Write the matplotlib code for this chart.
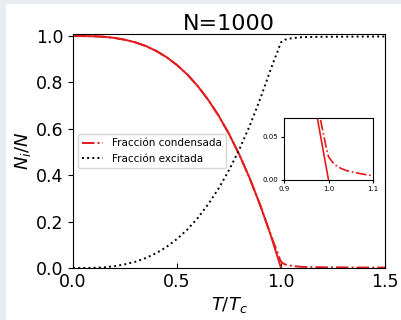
import matplotlib
matplotlib.use("Agg")
import matplotlib.pyplot as plt
from matplotlib.patches import Rectangle

# Condensed fraction, ideal (thermodynamic limit)
t_ideal = [0.0, 0.05, 0.1, 0.15, 0.2, 0.25, 0.3, 0.35, 0.4, 0.45, 0.5, 0.55,
           0.6, 0.65, 0.7, 0.75, 0.8, 0.85, 0.9, 0.95, 1.0]
n0_ideal = [1.0, 1.0, 0.999, 0.997, 0.992, 0.984, 0.973, 0.957, 0.936, 0.909,
            0.875, 0.834, 0.784, 0.725, 0.657, 0.578, 0.488, 0.386, 0.271,
            0.143, 0.0]

# Finite N = 1000
t_fin = [0.0, 0.05, 0.1, 0.15, 0.2, 0.25, 0.3, 0.35, 0.4, 0.45, 0.5, 0.55,
         0.6, 0.65, 0.7, 0.75, 0.8, 0.85, 0.9, 0.95, 0.97, 0.98, 0.99, 0.995,
         1.0, 1.01, 1.02, 1.03, 1.04, 1.05, 1.07, 1.1, 1.15, 1.2, 1.3, 1.4, 1.5]
n0_fin = [1.0, 1.0, 0.999, 0.997, 0.992, 0.984, 0.973, 0.957, 0.936, 0.909,
          0.875, 0.834, 0.784, 0.725, 0.657, 0.578, 0.488, 0.386, 0.271,
          0.145, 0.097, 0.075, 0.050, 0.037, 0.027, 0.020, 0.0155, 0.013,
          0.011, 0.0097, 0.0075, 0.0048, 0.0038, 0.0032, 0.0026, 0.0021, 0.0018]
n_exc = [0.0, 0.0, 0.001, 0.003, 0.008, 0.016, 0.027, 0.043, 0.064, 0.091,
         0.125, 0.166, 0.216, 0.275, 0.343, 0.422, 0.512, 0.614, 0.729,
         0.855, 0.903, 0.925, 0.950, 0.963, 0.973, 0.980, 0.9845, 0.987,
         0.989, 0.9903, 0.9925, 0.9952, 0.9962, 0.9968, 0.9974, 0.9979, 0.9982]

fig = plt.figure(figsize=(4.02, 3.2), dpi=100, facecolor="#e9edf2")
fig.patches.append(Rectangle((6 / 402, 0), 1, 1 - 4 / 320, transform=fig.transFigure,
                             facecolor="white", edgecolor="none", zorder=-10))

ax = fig.add_axes([0.1816, 0.1625, 0.7761, 0.7313])
ax.plot(t_ideal, n0_ideal, color="#e41a1c", lw=1.4)
ax.plot(t_fin, n0_fin, color="#e41a1c", lw=1.4, ls="-.", label="Fracción condensada")
ax.plot(t_fin, n_exc, color="black", lw=1.4, ls=":", label="Fracción excitada")
ax.set_xlim(0, 1.5)
ax.set_ylim(0, 1.009)
ax.set_xticks([0.0, 0.5, 1.0, 1.5])
ax.set_yticks([0.0, 0.2, 0.4, 0.6, 0.8, 1.0])
ax.tick_params(labelsize=12.5)
ax.tick_params(axis="x", direction="in")
ax.set_xlabel(r"$T/T_c$", fontsize=13, labelpad=3)
ax.set_ylabel(r"$N_i/N$", fontsize=13, labelpad=2)
ax.set_title("N=1000", fontsize=16, pad=3)
ax.legend(loc="center left", fontsize=7.5)

# Inset zoom near T_c
axin = fig.add_axes([0.7065, 0.4375, 0.2214, 0.194])
axin.plot(t_ideal, n0_ideal, color="#e41a1c", lw=1.2)
axin.plot(t_fin, n0_fin, color="#e41a1c", lw=1.2, ls="-.")
axin.set_xlim(0.9, 1.1)
axin.set_ylim(0, 0.072)
axin.set_xticks([0.9, 1.0, 1.1])
axin.set_yticks([0.0, 0.05])
axin.set_yticklabels(["0.00", "0.05"])
axin.tick_params(labelsize=5, length=2.5, pad=1.5)

fig.savefig("out.png", dpi=100, facecolor=fig.get_facecolor())
